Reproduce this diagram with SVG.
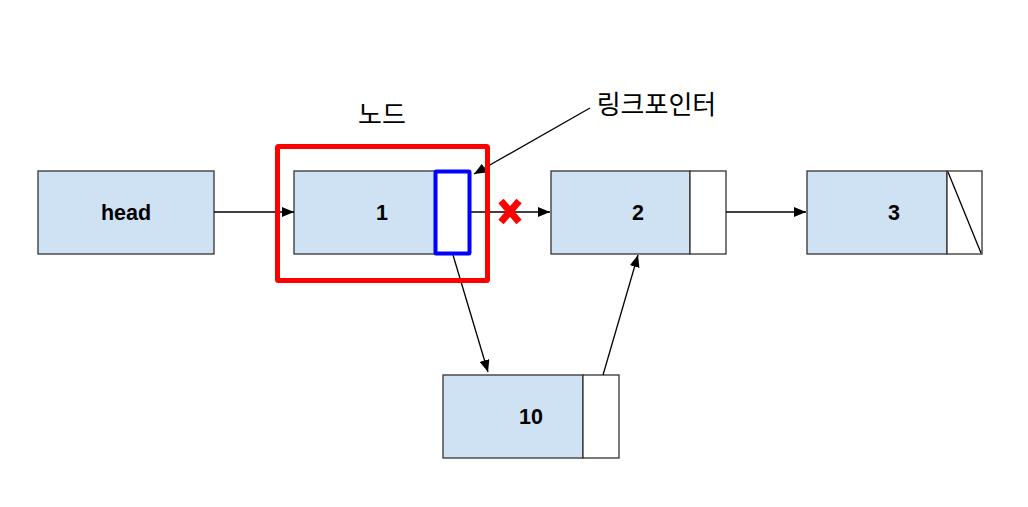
<svg xmlns="http://www.w3.org/2000/svg" width="1028" height="507" viewBox="0 0 1028 507">
<style>
.box{fill:#cfe2f3;stroke:#333;stroke-width:1.3}
.ptr{fill:#fff;stroke:#333;stroke-width:1.3}
.lbl{font-family:"Liberation Sans",Arial,sans-serif;font-size:21.5px;font-weight:bold;fill:#000;text-anchor:middle}
.kr{font-family:"Noto Sans CJK KR","Noto Sans",sans-serif;font-size:26px;fill:#000;text-anchor:middle}
.edge{stroke:#000;stroke-width:1.3;fill:none;marker-end:url(#ah)}
</style>
<defs>
<marker id="ah" viewBox="0 0 12 10" refX="12" refY="5" markerWidth="12" markerHeight="10" markerUnits="userSpaceOnUse" orient="auto">
<path d="M0,0 L12,5 L0,10 Z" fill="#000"/>
</marker>
</defs>
<rect width="1028" height="507" fill="#fff"/>
<g id="head">
<rect class="box" x="38" y="171" width="176" height="83"/>
<text class="lbl" x="126" y="220">head</text>
</g>
<g id="node1">
<rect class="box" x="294" y="171" width="176" height="83"/>
<text class="lbl" x="382" y="220">1</text>
</g>
<g id="node2">
<rect class="box" x="551" y="171" width="139" height="83"/>
<rect class="ptr" x="690" y="171" width="36" height="83"/>
<text class="lbl" x="638" y="220">2</text>
</g>
<g id="node3">
<rect class="box" x="807" y="171" width="140" height="83"/>
<rect class="ptr" x="947" y="171" width="35" height="83"/>
<line x1="948" y1="172" x2="981" y2="253" stroke="#000" stroke-width="1.3"/>
<text class="lbl" x="894" y="220">3</text>
</g>
<g id="node10">
<rect class="box" x="443" y="375" width="140" height="83"/>
<rect class="ptr" x="583" y="375" width="36" height="83"/>
<text class="lbl" x="531" y="424">10</text>
</g>
<g id="connectors">
<line class="edge" x1="214" y1="212" x2="294" y2="212"/>
<line class="edge" x1="471" y1="212" x2="550" y2="212"/>
<line class="edge" x1="726" y1="212" x2="806" y2="212"/>
<line class="edge" x1="453" y1="255" x2="488" y2="372"/>
<line class="edge" x1="603" y1="375" x2="638" y2="255"/>
<line class="edge" x1="590" y1="108" x2="474" y2="174"/>
</g>
<g id="node-highlight">
<rect x="277.5" y="146.5" width="210" height="134" fill="none" stroke="#f00" stroke-width="5" rx="1"/>
<text class="kr" x="382" y="124">노드</text>
</g>
<g id="link-pointer">
<rect x="435.5" y="171.5" width="34" height="82" fill="#fff" stroke="#00f" stroke-width="4" rx="1"/>
<text class="kr" x="656.5" y="114">링크포인터</text>
</g>
<g id="cut">
<line x1="501" y1="201" x2="519" y2="222" stroke="#f00" stroke-width="7"/>
<line x1="519" y1="201" x2="501" y2="222" stroke="#f00" stroke-width="7"/>
</g>
</svg>
